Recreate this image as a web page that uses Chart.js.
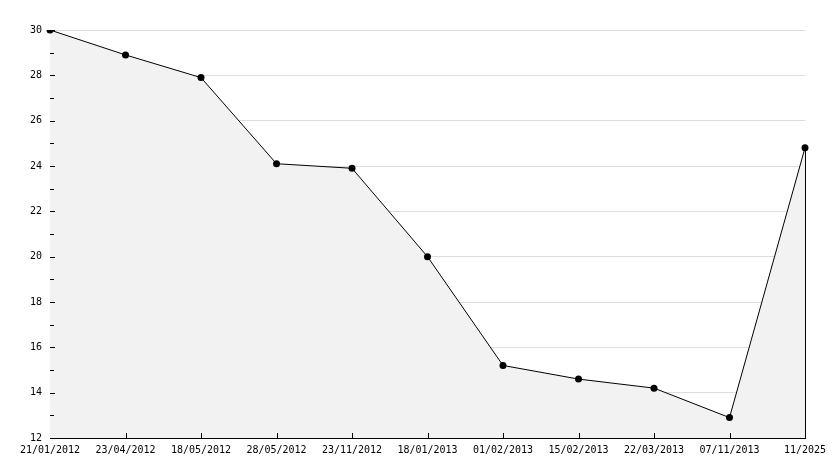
<!DOCTYPE html>
<html>
<head>
<meta charset="utf-8">
<script src="https://cdn.jsdelivr.net/npm/chart.js@4"></script>
<style>
  html, body { margin: 0; padding: 0; background: #fff; }
  #wrap { width: 834px; height: 468px; }
</style>
</head>
<body>
<div id="wrap"><canvas id="myChart" width="834" height="468"></canvas></div>
<script>
const dates = ['21/01/2012', '23/04/2012', '18/05/2012', '28/05/2012', '23/11/2012', '18/01/2013',
               '01/02/2013', '15/02/2013', '22/03/2013', '07/11/2013', '11/2025'];
const values = [30, 28.9, 27.9, 24.1, 23.9, 20, 15.2, 14.6, 14.2, 12.9, 24.8];
const yMin = 12;
const yMax = 30;
const yStep = 2;

// ticks inside the plot + the closing edge of the filled area
const axisTicks = {
    id: 'axisTicks',
    afterDraw(chart) {
        const ctx = chart.ctx;
        const x = chart.scales.x;
        const y = chart.scales.y;
        const left = chart.chartArea.left;
        const bottom = chart.chartArea.bottom;
        ctx.save();
        ctx.lineWidth = 1;
        ctx.strokeStyle = '#000000';
        ctx.beginPath();
        // major
        for (let v = yMin; v <= yMax; v += yStep) {
            const py = Math.round(y.getPixelForValue(v)) + 0.5;
            ctx.moveTo(left, py);
            ctx.lineTo(left + 5, py);
        }
        // minor
        for (let v = yMin + 1; v < yMax; v += yStep) {
            const py = Math.round(y.getPixelForValue(v)) + 0.5;
            ctx.moveTo(left, py);
            ctx.lineTo(left + 4, py);
        }
        for (let i = 1; i < dates.length - 1; i++) {
            const px = Math.round(x.getPixelForValue(i)) + 0.5;
            ctx.moveTo(px, bottom);
            ctx.lineTo(px, bottom - 5);
        }
        const last = dates.length - 1;
        const lx = Math.round(x.getPixelForValue(last)) + 0.5;
        ctx.moveTo(lx, y.getPixelForValue(values[last]));
        ctx.lineTo(lx, bottom);
        ctx.stroke();
        ctx.restore();
    }
};

const ctx = document.getElementById('myChart');
const myChart = new Chart(ctx, {
    type: 'line',
    data: {
        labels: dates,
        datasets: [{
            data: values,
            borderColor: '#000',
            borderWidth: 1,
            backgroundColor: '#f2f2f2',
            fill: 'start',
            tension: 0,
            pointRadius: 3.5,
            pointBackgroundColor: '#000',
            pointBorderColor: '#000',
            pointBorderWidth: 0
        }]
    },
    options: {
        responsive: false,
        animation: false,
        layout: { padding: { top: 30, right: 29, left: 0, bottom: 0 } },
        plugins: {
            legend: { display: false },
            tooltip: { enabled: false }
        },
        scales: {
            x: {
                offset: false,
                grid: { display: false, drawTicks: false },
                border: { display: true, color: '#000', width: 1 },
                ticks: {
                    color: '#000',
                    font: { family: 'DejaVu Sans Mono', size: 10 },
                    padding: 6,
                    maxRotation: 0,
                    autoSkip: false
                },
                afterFit(scale) { scale.height = 30; }
            },
            y: {
                min: yMin,
                max: yMax,
                grid: { color: '#dddddd', drawTicks: false },
                border: { display: true, color: '#000', width: 1 },
                ticks: {
                    stepSize: yStep,
                    color: '#000',
                    font: { family: 'DejaVu Sans Mono', size: 10 },
                    padding: 8
                },
                afterFit(scale) { scale.width = 50; }
            }
        }
    },
    plugins: [axisTicks]
});
</script>
</body>
</html>
